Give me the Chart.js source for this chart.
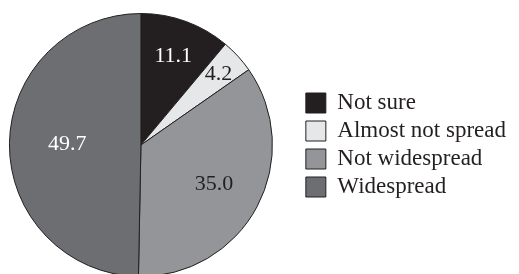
<!DOCTYPE html>
<html>
<head>
<meta charset="utf-8">
<script src="https://cdn.jsdelivr.net/npm/chart.js@4"></script>
<style>
  html, body { margin: 0; padding: 0; background: #fff; overflow: hidden; }
  #wrap { position: absolute; left: -20px; top: 0; width: 539px; height: 290px; }
</style>
</head>
<body>
<div id="wrap"><canvas id="chart"></canvas></div>
<script>
const categories = ['Not sure', 'Almost not spread', 'Not widespread', 'Widespread'];
const shares = [11.1, 4.2, 35.0, 49.7];
const sliceColors = ['#231f20', '#e6e7e8', '#939598', '#6d6e71'];
const labelColors = ['#ffffff', '#231f20', '#231f20', '#ffffff'];

// draws the value inside each slice
const sliceLabels = {
  id: 'sliceLabels',
  afterDatasetsDraw(chart) {
    const ctx = chart.ctx;
    const meta = chart.getDatasetMeta(0);
    const spots = [0.72, 0.8, 0.63, 0.56];
    ctx.save();
    ctx.font = '22px "Liberation Serif"';
    ctx.textAlign = 'center';
    ctx.textBaseline = 'middle';
    meta.data.forEach((arc, i) => {
      const mid = (arc.startAngle + arc.endAngle) / 2;
      const r = arc.outerRadius * spots[i];
      ctx.fillStyle = labelColors[i];
      ctx.fillText(shares[i].toFixed(1), arc.x + Math.cos(mid) * r, arc.y + Math.sin(mid) * r);
    });
    ctx.restore();
  }
};

new Chart(document.getElementById('chart'), {
  type: 'pie',
  data: {
    labels: categories,
    datasets: [{
      data: shares,
      backgroundColor: sliceColors,
      borderColor: '#231f20',
      borderWidth: 1
    }]
  },
  options: {
    responsive: true,
    maintainAspectRatio: false,
    animation: false,
    layout: { padding: { left: 1, top: 13, bottom: 13, right: 3 } },
    plugins: {
      tooltip: { enabled: false },
      legend: {
        position: 'right',
        labels: {
          font: { family: '"Liberation Serif"', size: 23 },
          color: '#231f20',
          boxWidth: 20,
          boxHeight: 20,
          padding: 5
        }
      }
    }
  },
  plugins: [sliceLabels]
});
</script>
</body>
</html>
